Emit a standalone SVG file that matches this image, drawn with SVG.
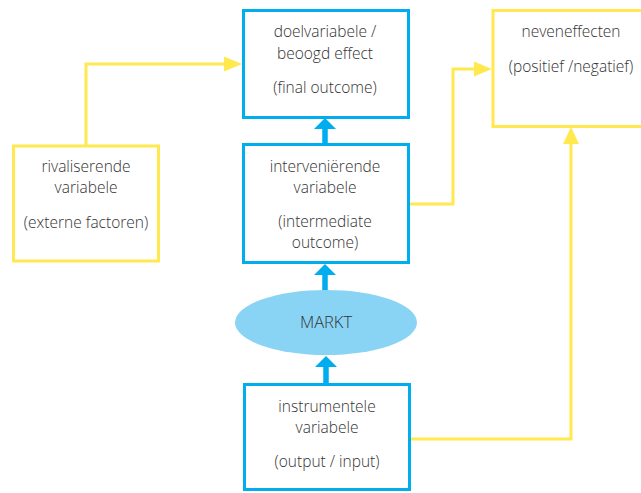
<svg xmlns="http://www.w3.org/2000/svg" width="641" height="493" viewBox="0 0 641 493">
  <style>
    .blue { fill: #ffffff; stroke: #00adee; stroke-width: 3; }
    .yel { fill: #ffffff; stroke: #ffe94f; stroke-width: 3; }
    .lbl { font-family: "Open Sans", "Liberation Sans", sans-serif; font-size: 15.5px; font-weight: 300; fill: #333333; text-anchor: middle; }
    .bline { fill: none; stroke: #00adee; stroke-width: 5.5; }
    .yline { fill: none; stroke: #ffe94f; stroke-width: 3; }
    .bhead { fill: #00adee; }
    .yhead { fill: #ffe94f; }
  </style>
  <rect width="641" height="493" fill="#ffffff"/>

  <!-- connectors -->
  <g id="connectors">
    <!-- blue flow upward -->
    <line class="bline" x1="325" y1="143" x2="325" y2="126"/>
    <polygon class="bhead" points="325,118 336,129 314,129"/>
    <line class="bline" x1="325" y1="291" x2="325" y2="272"/>
    <polygon class="bhead" points="325,264 336,275 314,275"/>
    <line class="bline" x1="326" y1="383" x2="326" y2="364"/>
    <polygon class="bhead" points="326,356 337,367 315,367"/>
    <!-- yellow side effects -->
    <path class="yline" d="M86,145 V64 H228"/>
    <polygon class="yhead" points="242,64 224,56.5 224,71.5"/>
    <path class="yline" d="M410,204 H453 V69 H478"/>
    <polygon class="yhead" points="492,69 474,61.5 474,76.5"/>
    <path class="yline" d="M411,439 H571 V141"/>
    <polygon class="yhead" points="571,127 563,144 579,144"/>
  </g>

  <g id="doelvariabele">
    <rect class="blue" x="243.5" y="10.5" width="165" height="107"/>
    <text class="lbl" x="325" y="37">doelvariabele /</text>
    <text class="lbl" x="325" y="59">beoogd effect</text>
    <text class="lbl" x="325" y="93">(final outcome)</text>
  </g>

  <g id="neveneffecten">
    <rect class="yel" x="493" y="10.5" width="160" height="116"/>
    <text class="lbl" x="571" y="37">neveneffecten</text>
    <text class="lbl" x="571" y="72">(positief /negatief)</text>
  </g>

  <g id="rivaliserende">
    <rect class="yel" x="13.5" y="146" width="145" height="115"/>
    <text class="lbl" x="86" y="172">rivaliserende</text>
    <text class="lbl" x="86" y="193">variabele</text>
    <text class="lbl" x="86" y="228">(externe factoren)</text>
  </g>

  <g id="interveniërende">
    <rect class="blue" x="243.5" y="144.5" width="165" height="118"/>
    <text class="lbl" x="325" y="172">interveniërende</text>
    <text class="lbl" x="325" y="193">variabele</text>
    <text class="lbl" x="325" y="227">(intermediate</text>
    <text class="lbl" x="325" y="248">outcome)</text>
  </g>

  <g id="markt">
    <ellipse cx="326" cy="322.5" rx="91" ry="32.5" fill="#89d4f5"/>
    <text class="lbl" x="326" y="328" style="font-size:16.5px">MARKT</text>
  </g>

  <g id="instrumentele">
    <rect class="blue" x="244.5" y="384.5" width="165" height="105"/>
    <text class="lbl" x="327" y="412">instrumentele</text>
    <text class="lbl" x="327" y="433">variabele</text>
    <text class="lbl" x="327" y="467">(output / input)</text>
  </g>
</svg>
